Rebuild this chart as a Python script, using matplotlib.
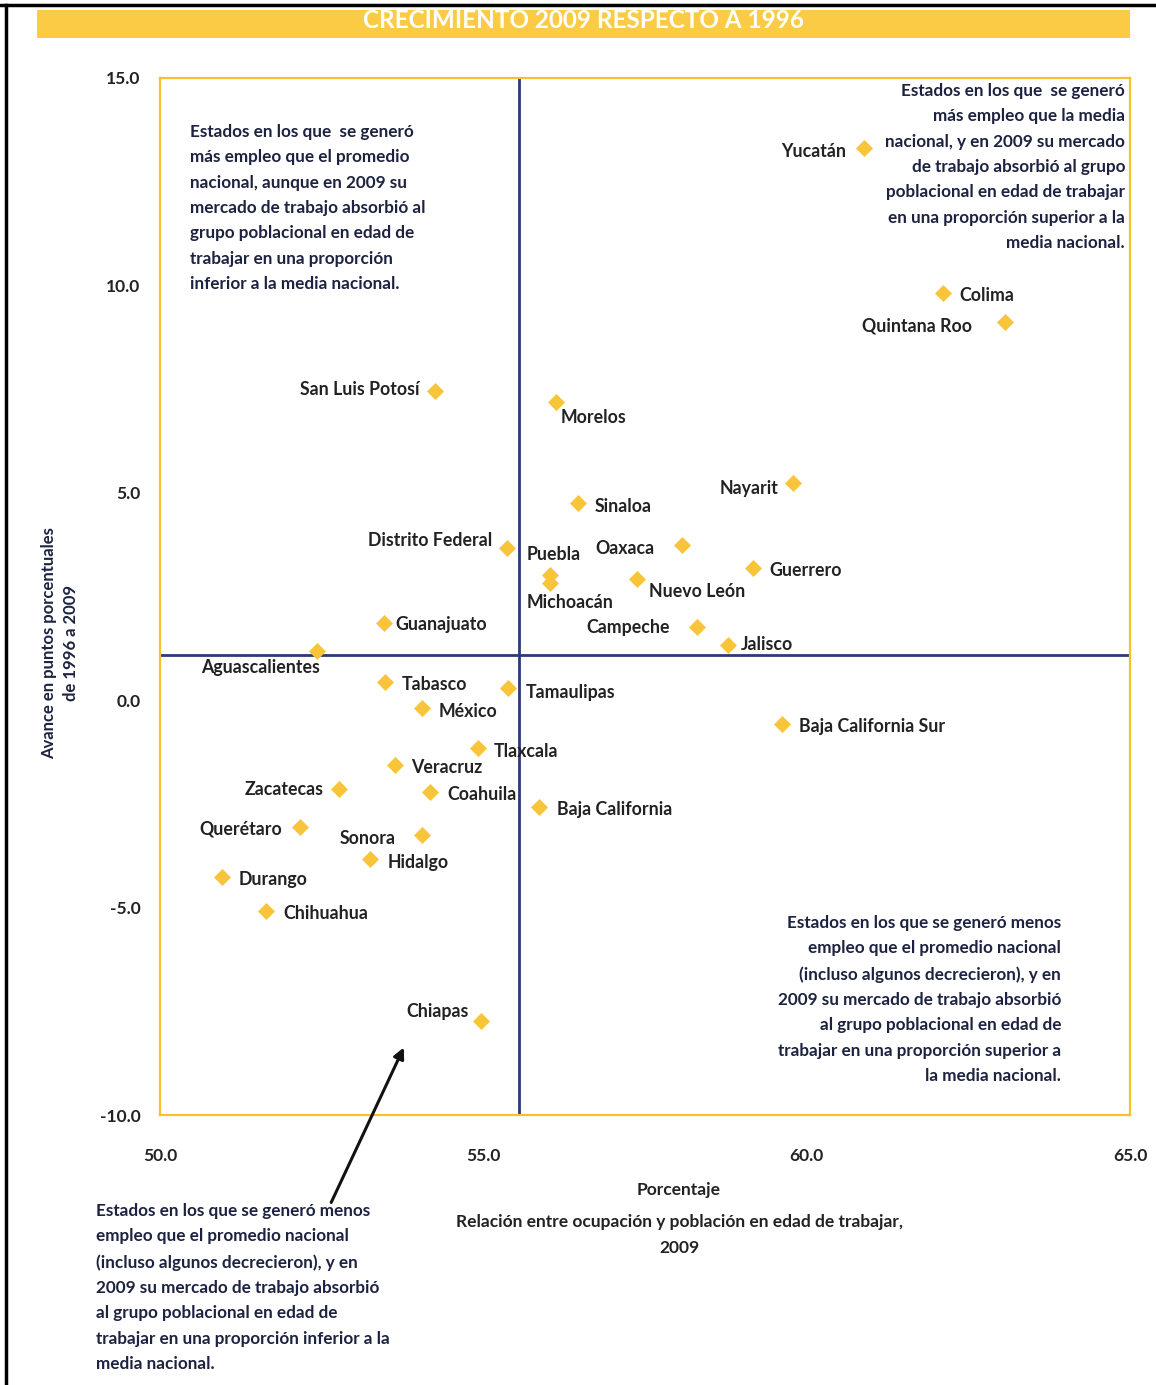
import matplotlib.pyplot as plt
from matplotlib.patches import Rectangle
from matplotlib.lines import Line2D

plt.rcParams['font.family'] = ['Lato', 'DejaVu Sans']

estados = ["Yucatán", "Colima", "Quintana Roo", "San Luis Potosí", "Morelos",
           "Nayarit", "Sinaloa", "Distrito Federal", "Oaxaca", "Guerrero",
           "Puebla", "Michoacán", "Nuevo León", "Guanajuato", "Campeche",
           "Jalisco", "Aguascalientes", "Tabasco", "Tamaulipas", "México",
           "Baja California Sur", "Tlaxcala", "Veracruz", "Zacatecas",
           "Coahuila", "Baja California", "Querétaro", "Sonora", "Hidalgo",
           "Durango", "Chihuahua", "Chiapas"]
# relacion ocupacion / poblacion en edad de trabajar 2009 (%)
relacion = [60.89, 62.11, 63.07, 54.25, 56.12, 59.79, 56.46, 55.37, 58.07, 59.17,
            56.03, 56.03, 57.38, 53.46, 58.30, 58.78, 52.43, 53.48, 55.38, 54.05,
            59.62, 54.92, 53.63, 52.77, 54.18, 55.86, 52.16, 54.05, 53.25,
            50.96, 51.64, 54.96]
# avance en puntos porcentuales 1996-2009
avance = [13.31, 9.82, 9.12, 7.45, 7.19, 5.24, 4.75, 3.67, 3.74, 3.19,
          3.02, 2.83, 2.92, 1.86, 1.76, 1.33, 1.19, 0.44, 0.29, -0.19,
          -0.57, -1.15, -1.56, -2.14, -2.21, -2.57, -3.06, -3.25, -3.83,
          -4.26, -5.08, -7.73]
media_x = 55.55
media_y = 1.09

# desplazamiento de etiquetas en pixeles (dx, dy, alineacion)
offs = {
    "Yucatán": (-18, -3, "right"), "Colima": (16, -3, "left"),
    "Quintana Roo": (-33, -4, "right"), "San Luis Potosí": (-15, 2, "right"),
    "Morelos": (5, -16, "left"), "Nayarit": (-15, -6, "right"),
    "Sinaloa": (17, -3, "left"), "Distrito Federal": (-15, 7, "right"),
    "Oaxaca": (-27, -3, "right"), "Guerrero": (16, -3, "left"),
    "Puebla": (-23, 20, "left"), "Michoacán": (-23, -20, "left"),
    "Nuevo León": (12, -12, "left"), "Guanajuato": (12, -1, "left"),
    "Campeche": (-27, 0, "right"), "Jalisco": (13, 1, "left"),
    "Aguascalientes": (3, -17, "right"), "Tabasco": (17, -3, "left"),
    "Tamaulipas": (18, -4, "left"), "México": (17, -3, "left"),
    "Baja California Sur": (17, -3, "left"), "Tlaxcala": (16, -4, "left"),
    "Veracruz": (16, -3, "left"), "Zacatecas": (-16, -1, "right"),
    "Coahuila": (17, -3, "left"), "Baja California": (18, -3, "left"),
    "Querétaro": (-18, -2, "right"), "Sonora": (-26, -3, "right"),
    "Hidalgo": (17, -3, "left"), "Durango": (17, -3, "left"),
    "Chihuahua": (17, -3, "left"), "Chiapas": (-12, 9, "right"),
}

txt_col = "#1c2240"
oro = "#F5C12E"
azul = "#2c3a78"

fig = plt.figure(figsize=(11.56, 13.85), dpi=100)
W, H = 1156, 1385
ax = fig.add_axes([160 / W, 1 - 1115 / H, 970 / W, 1037 / H])

ax.axvline(media_x, color=azul, lw=2, zorder=1)
ax.axhline(media_y, color=azul, lw=2, zorder=1)
ax.scatter(relacion, avance, marker="D", s=75, color="#F8C43A", zorder=3, linewidths=0)

for e, x, y in zip(estados, relacion, avance):
    dx, dy, ha = offs[e]
    ax.annotate(e, (x, y), xytext=(dx, dy), textcoords="offset pixels",
                ha=ha, va="center", fontsize=12.8, fontweight="bold", color="#222222")

ax.set_xlim(50, 65)
ax.set_ylim(-10, 15)
ax.set_xticks([50, 55, 60, 65])
ax.set_yticks([-10, -5, 0, 5, 10, 15])
ax.set_xticklabels(["50.0", "55.0", "60.0", "65.0"])
ax.set_yticklabels(["-10.0", "-5.0", "0.0", "5.0", "10.0", "15.0"])
ax.tick_params(length=0, labelsize=12.5, colors="#222222")
ax.tick_params(axis="x", pad=24)
ax.tick_params(axis="y", pad=14)
for t in ax.get_xticklabels() + ax.get_yticklabels():
    t.set_fontweight("bold")
for s in ax.spines.values():
    s.set_color(oro)
    s.set_linewidth(1.6)

fig.text(60 / W, 1 - 643 / H, "Avance en puntos porcentuales\nde 1996 a 2009",
         rotation=90, ha="center", va="center", fontsize=12,
         fontweight="bold", color=txt_col, linespacing=1.5)

kw = dict(fontsize=12.3, color=txt_col, linespacing=1.72, fontweight="bold")
fig.text(190 / W, 1 - 124 / H,
         "Estados en los que  se generó\nmás empleo que el promedio\n"
         "nacional, aunque en 2009 su\nmercado de trabajo absorbió al\n"
         "grupo poblacional en edad de\ntrabajar en una proporción\n"
         "inferior a la media nacional.", ha="left", va="top", **kw)
fig.text(1125 / W, 1 - 83 / H,
         "Estados en los que  se generó\nmás empleo que la media\n"
         "nacional, y en 2009 su mercado\nde trabajo absorbió al grupo\n"
         "poblacional en edad de trabajar\nen una proporción superior a la\n"
         "media nacional.", ha="right", va="top", multialignment="right", **kw)
fig.text(1061 / W, 1 - 915 / H,
         "Estados en los que se generó menos\nempleo que el promedio nacional\n"
         "(incluso algunos decrecieron), y en\n2009 su mercado de trabajo absorbió\n"
         "al grupo poblacional en edad de\ntrabajar en una proporción superior a\n"
         "la media nacional.", ha="right", va="top", multialignment="right", **kw)
fig.text(96 / W, 1 - 1203 / H,
         "Estados en los que se generó menos\nempleo que el promedio nacional\n"
         "(incluso algunos decrecieron), y en\n2009 su mercado de trabajo absorbió\n"
         "al grupo poblacional en edad de\ntrabajar en una proporción inferior a la\n"
         "media nacional.", ha="left", va="top", **kw)

fig.text(679 / W, 1 - 1190 / H, "Porcentaje", ha="center", va="center",
         fontsize=12.5, fontweight="bold", color="#222222")
fig.text(679 / W, 1 - 1235 / H,
         "Relación entre ocupación y población en edad de trabajar,\n2009",
         ha="center", va="center", fontsize=12.5, fontweight="bold",
         color="#222222", linespacing=1.7)

# flecha hacia Chiapas
ax.annotate("", xy=(405 / W, 1 - 1045 / H), xycoords="figure fraction",
            xytext=(330 / W, 1 - 1205 / H), textcoords="figure fraction",
            arrowprops=dict(arrowstyle="-|>", color="#111111", lw=2.2,
                            mutation_scale=16), annotation_clip=False)

# barra de titulo
bar = Rectangle((37 / W, 1 - 38 / H), 1093 / W, 28 / H, transform=fig.transFigure,
                facecolor="#FCCB45", edgecolor="none")
fig.add_artist(bar)
tt = fig.text(583 / W, 1 - 20 / H, "CRECIMIENTO 2009 RESPECTO A 1996",
              ha="center", va="center", fontsize=17.5, fontweight="bold", color="white")
tt.set_clip_path(bar)

# marco
fig.add_artist(Line2D([0, 1], [1 - 5 / H, 1 - 5 / H], transform=fig.transFigure,
                      color="black", lw=2.5))
fig.add_artist(Line2D([6 / W, 6 / W], [0, 1 - 5 / H], transform=fig.transFigure,
                      color="black", lw=2.5))

fig.savefig("out.png", dpi=100)
